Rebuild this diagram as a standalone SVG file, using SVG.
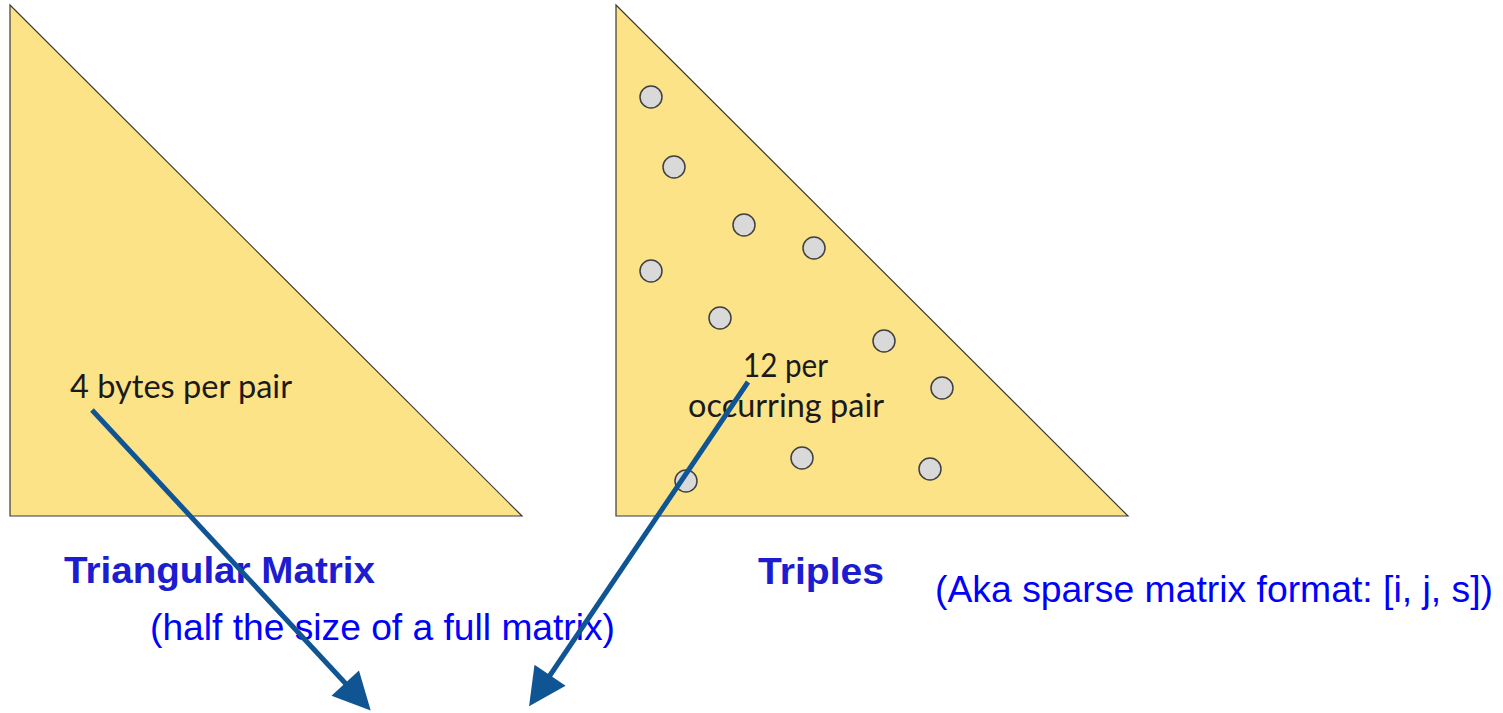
<svg xmlns="http://www.w3.org/2000/svg" width="1503" height="713" viewBox="0 0 1503 713">
<style>
.tri{fill:#fde387;stroke:#3a3a3a;stroke-width:1.2}
.dot{fill:#d9d9d9;stroke:#404040;stroke-width:1.5}
.lbl{font-family:Lato,"Open Sans",sans-serif;font-size:32px;fill:#1a1a1a}
.ttl{font-family:"Liberation Sans",Arial,sans-serif;font-weight:bold;font-size:37px;fill:#1c1cd0}
.note{font-family:"Liberation Sans",Arial,sans-serif;font-size:37px;fill:#0000ff}
.conn{stroke:#0f5593;stroke-width:5;fill:none}
</style>
<defs>
<marker id="ah" viewBox="0 0 10 10" refX="2.5" refY="5" markerWidth="8" markerHeight="7.5" orient="auto">
<path d="M0,0 L10,5 L0,10 z" fill="#0f5593"/>
</marker>
</defs>
<rect width="1503" height="713" fill="#ffffff"/>
<g id="triangular-matrix">
<polygon class="tri" points="10,5 10,516 522,516"/>
<text class="lbl" x="70" y="398" textLength="222" lengthAdjust="spacingAndGlyphs">4 bytes per pair</text>
</g>
<g id="triples">
<polygon class="tri" points="616,5 616,516 1128,516"/>
<circle class="dot" cx="651" cy="97" r="11"/>
<circle class="dot" cx="674" cy="167" r="11"/>
<circle class="dot" cx="744" cy="225" r="11"/>
<circle class="dot" cx="814" cy="248" r="11"/>
<circle class="dot" cx="651" cy="271" r="11"/>
<circle class="dot" cx="720" cy="318" r="11"/>
<circle class="dot" cx="884" cy="341" r="11"/>
<circle class="dot" cx="942" cy="388" r="11"/>
<circle class="dot" cx="802" cy="458" r="11"/>
<circle class="dot" cx="930" cy="469" r="11"/>
<circle class="dot" cx="686" cy="481" r="11"/>
<text class="lbl" x="743" y="377" textLength="85" lengthAdjust="spacingAndGlyphs">12 per</text>
<text class="lbl" x="688" y="417" textLength="196" lengthAdjust="spacingAndGlyphs">occurring pair</text>
</g>
<g id="labels">
<text class="ttl" x="64" y="583" textLength="311" lengthAdjust="spacingAndGlyphs">Triangular Matrix</text>
<text class="ttl" x="758" y="584" textLength="126" lengthAdjust="spacingAndGlyphs">Triples</text>
<text class="note" x="150" y="640" textLength="465" lengthAdjust="spacingAndGlyphs">(half the size of a full matrix)</text>
<text class="note" x="935" y="602" textLength="558" lengthAdjust="spacingAndGlyphs">(Aka sparse matrix format: [i, j, s])</text>
</g>
<g id="connectors">
<line class="conn" x1="92" y1="410" x2="351.6" y2="690" marker-end="url(#ah)"/>
<line class="conn" x1="748" y1="382" x2="544.8" y2="683" marker-end="url(#ah)"/>
</g>
</svg>
